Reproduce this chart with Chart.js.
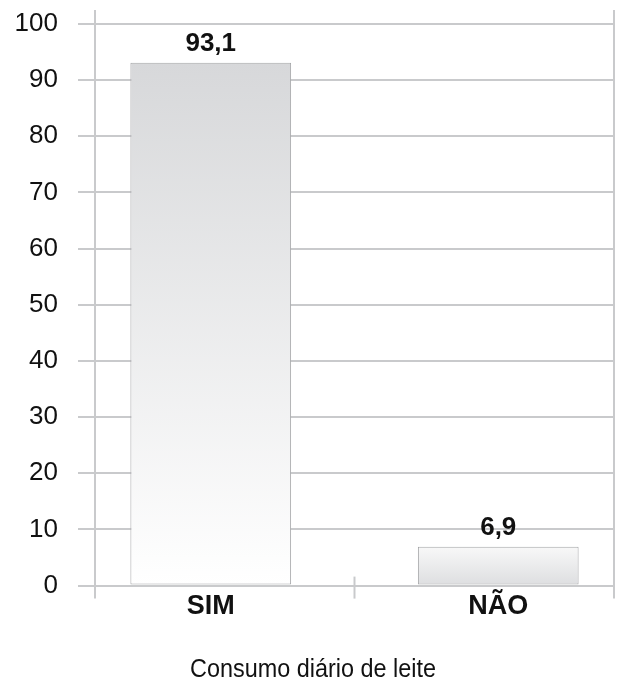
<!DOCTYPE html>
<html>
<head>
<meta charset="utf-8">
<script src="https://cdn.jsdelivr.net/npm/chart.js@4"></script>
<style>
  body { margin: 0; background: #fff; }
  #wrap { width: 626px; height: 680px; }
</style>
</head>
<body>
<div id="wrap"><canvas id="bar-chart"></canvas></div>
<script>
const categories = ["SIM", "NÃO"];
const values = [93.1, 6.9];
const yTicks = [0, 10, 20, 30, 40, 50, 60, 70, 80, 90, 100];
const titleText = 'Consumo diário de leite';

const gridColor = '#c9cacc';
const textColor = '#111';

// top / bottom colours of each bar's fade
const fadeTop = ['#d7d8da', '#f8f8f8'];
const fadeBottom = ['#ffffff', '#dddee0'];

// bars sit a little outside the category centres, so use a numeric x axis
const xSpread = 0.4026;

function barFill(context) {
    const chart = context.chart;
    const y = chart.scales.y;
    if (!y || context.dataIndex === undefined) return fadeTop[0];
    const top = y.getPixelForValue(values[context.dataIndex]);
    const bottom = y.getPixelForValue(0);
    if (!isFinite(top) || !isFinite(bottom) || top === bottom) return fadeTop[0];
    const g = chart.ctx.createLinearGradient(0, top, 0, bottom);
    g.addColorStop(0, fadeTop[context.dataIndex]);
    g.addColorStop(1, fadeBottom[context.dataIndex]);
    return g;
}

// frame lines, middle tick, value labels and the (condensed) title
const extras = {
    id: 'extras',
    beforeDatasetsDraw(chart) {
        const ctx = chart.ctx;
        const area = chart.chartArea;
        const x = chart.scales.x;
        ctx.save();
        ctx.strokeStyle = gridColor;
        ctx.lineWidth = 2;
        [area.left, area.right].forEach(px => {
            ctx.beginPath();
            ctx.moveTo(px, area.top - 14);
            ctx.lineTo(px, area.bottom + 13);
            ctx.stroke();
        });
        // divider between categories
        for (let i = 1; i < categories.length; i++) {
            const px = x.getPixelForValue(i - 0.5);
            ctx.beginPath();
            ctx.moveTo(px, area.bottom - 9);
            ctx.lineTo(px, area.bottom + 13);
            ctx.stroke();
        }
        ctx.restore();
    },
    afterDatasetsDraw(chart) {
        const ctx = chart.ctx;
        ctx.save();
        ctx.fillStyle = textColor;
        ctx.font = 'bold 26px "Liberation Sans", Arial, sans-serif';
        ctx.textAlign = 'center';
        ctx.textBaseline = 'alphabetic';
        chart.getDatasetMeta(0).data.forEach((bar, i) => {
            ctx.fillText(values[i].toFixed(1).replace('.', ','), bar.x, bar.y - 12);
        });
        // title, squeezed a bit to look condensed
        ctx.font = '26px "Liberation Sans", Arial, sans-serif';
        ctx.translate(chart.width / 2, chart.height - 3);
        ctx.scale(0.9, 1);
        ctx.fillText(titleText, 0, 0);
        ctx.restore();
    }
};

new Chart(document.getElementById('bar-chart'), {
    type: 'bar',
    data: {
        datasets: [{
            data: values.map((v, i) => ({ x: i, y: v })),
            backgroundColor: barFill,
            borderColor: '#a5a6a8',
            borderWidth: 1,
            borderSkipped: false,
            barPercentage: 0.559,
            categoryPercentage: 1
        }]
    },
    options: {
        responsive: true,
        maintainAspectRatio: false,
        animation: false,
        layout: {
            padding: { left: 0, right: 12, top: 24, bottom: 52 }
        },
        plugins: {
            legend: { display: false },
            tooltip: { enabled: false },
            title: { display: false }
        },
        scales: {
            x: {
                type: 'linear',
                offset: false,
                min: -xSpread,
                max: categories.length - 1 + xSpread,
                afterBuildTicks: axis => { axis.ticks = categories.map((c, i) => ({ value: i })); },
                grid: { display: false, drawTicks: false, tickLength: 0, offset: false },
                border: { display: false },
                ticks: {
                    color: textColor,
                    padding: 5,
                    callback: value => categories[value],
                    font: { family: '"Liberation Sans", Arial, sans-serif', size: 27, weight: 'bold' }
                }
            },
            y: {
                min: 0,
                max: 100,
                afterBuildTicks: axis => { axis.ticks = yTicks.map(v => ({ value: v })); },
                afterFit: axis => {
                    axis.width = 95;
                    axis.paddingTop = 0;
                    axis.paddingBottom = 0;
                },
                grid: {
                    color: gridColor,
                    lineWidth: 2,
                    tickLength: 17
                },
                border: { display: false },
                ticks: {
                    color: textColor,
                    padding: 20,
                    font: { family: '"Liberation Sans", Arial, sans-serif', size: 26 }
                }
            }
        }
    },
    plugins: [extras]
});
</script>
</body>
</html>
